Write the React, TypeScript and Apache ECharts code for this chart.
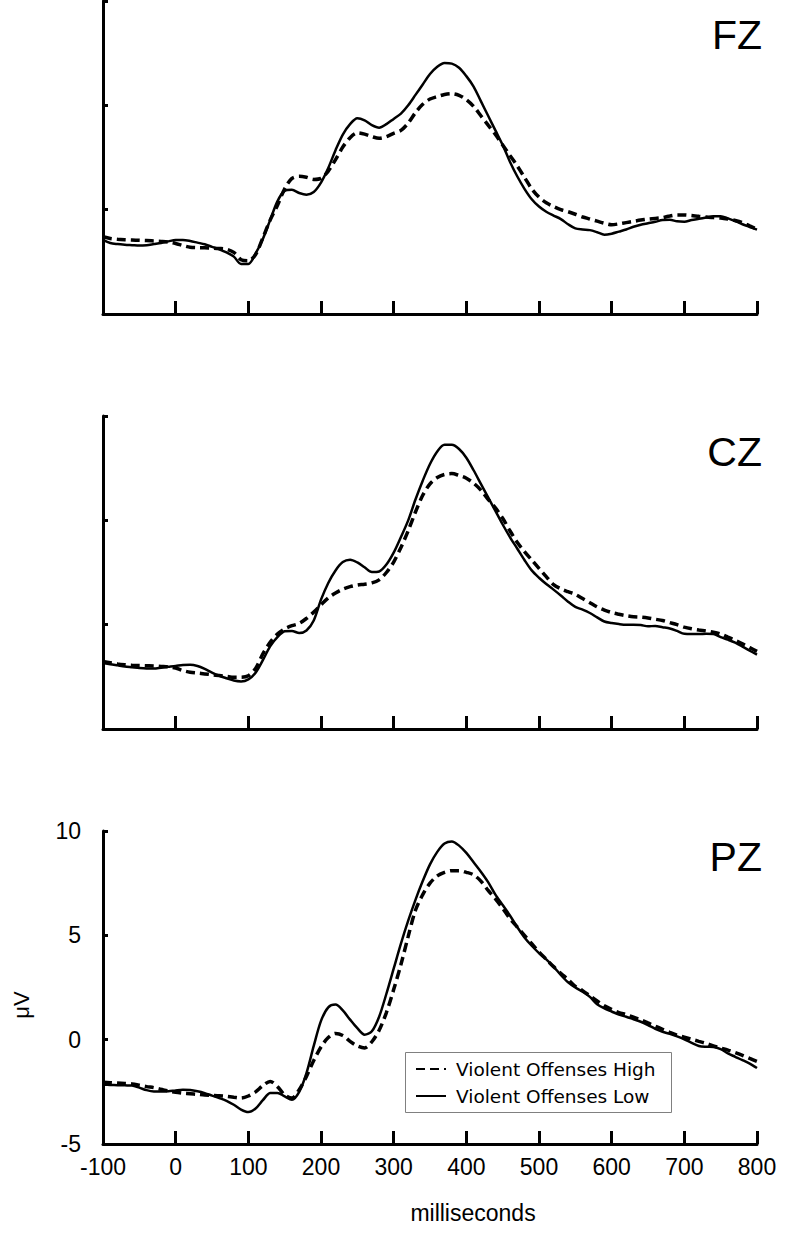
import React, { useEffect, useRef } from "react";
import * as echarts from "echarts";

// sampling grid in milliseconds (every 10 ms)
const TIMES: number[] = Array.from({ length: 91 }, (_, i) => -100 + i * 10);

const X_TICKS = [-100, 0, 100, 200, 300, 400, 500, 600, 700, 800];
const Y_TICKS = [-5, 0, 5, 10];

const FZ_LOW = [
  -1.45, -1.6, -1.65, -1.68, -1.7, -1.72, -1.7, -1.65, -1.6, -1.52,
  -1.45, -1.45, -1.5, -1.58, -1.66, -1.78, -1.9, -2.05, -2.25, -2.6,
  -2.6, -2.1, -1.4, -0.5, 0.4, 0.9, 0.95, 0.8, 0.72, 0.85,
  1.3, 2.0, 2.85, 3.6, 4.1, 4.38, 4.28, 4.05, 3.93, 4.1,
  4.35, 4.6, 5.0, 5.5, 6.0, 6.5, 6.85, 7.03, 7.0, 6.8,
  6.4, 5.9, 5.2, 4.5, 3.8, 3.1, 2.3, 1.6, 1.0, 0.5,
  0.15, -0.1, -0.28, -0.45, -0.7, -0.9, -0.95, -0.98, -1.08, -1.2,
  -1.15, -1.05, -0.95, -0.82, -0.72, -0.65, -0.58, -0.5, -0.48, -0.56,
  -0.58, -0.5, -0.44, -0.38, -0.32, -0.32, -0.42, -0.55, -0.7, -0.83,
  -0.96,
];
const FZ_HIGH = [
  -1.3, -1.38, -1.42, -1.44, -1.45, -1.47, -1.48, -1.5, -1.52, -1.55,
  -1.62, -1.72, -1.8, -1.82, -1.83, -1.84, -1.86, -1.9, -2.05, -2.4,
  -2.45, -2.15, -1.35, -0.5, 0.2, 1.0, 1.5, 1.6, 1.55, 1.45,
  1.5, 1.85, 2.4, 3.0, 3.45, 3.68, 3.62, 3.5, 3.42, 3.5,
  3.66, 3.8, 4.15, 4.65, 5.05, 5.3, 5.42, 5.52, 5.56, 5.48,
  5.27, 4.95, 4.5, 4.05, 3.6, 3.1, 2.6, 2.1, 1.55, 1.0,
  0.6, 0.33, 0.15, 0.0, -0.1, -0.22, -0.35, -0.45, -0.55, -0.65,
  -0.72, -0.68, -0.62, -0.56, -0.5, -0.45, -0.42, -0.38, -0.3, -0.25,
  -0.25, -0.28, -0.32, -0.35, -0.38, -0.4, -0.45, -0.52, -0.62, -0.78,
  -0.93,
];
const CZ_LOW = [
  -1.84, -1.9, -1.95, -2.0, -2.04, -2.08, -2.1, -2.1, -2.06, -2.02,
  -1.98, -1.93, -1.92, -1.98, -2.12, -2.3, -2.45, -2.57, -2.68, -2.72,
  -2.62, -2.3, -1.7, -1.04, -0.6, -0.32, -0.3, -0.4, -0.28, 0.2,
  1.2, 2.0, 2.6, 3.0, 3.11, 2.98, 2.75, 2.52, 2.55, 2.88,
  3.45, 4.2, 5.0, 6.0, 6.9, 7.7, 8.3, 8.62, 8.62, 8.42,
  8.0, 7.4, 6.75, 6.1, 5.45, 4.8, 4.2, 3.65, 3.1, 2.6,
  2.25, 1.95, 1.68, 1.4, 1.1, 0.85, 0.72, 0.56, 0.35, 0.15,
  0.08, 0.03, 0.0, 0.0, -0.02, -0.08, -0.06, -0.12, -0.18, -0.3,
  -0.44, -0.45, -0.45, -0.44, -0.45, -0.6, -0.72, -0.86, -1.05, -1.25,
  -1.44,
];
const CZ_HIGH = [
  -1.76, -1.82, -1.88, -1.92, -1.95, -1.96, -1.97, -1.98, -2.0, -2.02,
  -2.08, -2.2, -2.28, -2.32, -2.36, -2.4, -2.44, -2.48, -2.52, -2.52,
  -2.45, -2.1, -1.4, -0.85, -0.45, -0.2, -0.05, 0.06, 0.3, 0.6,
  0.95, 1.28, 1.52, 1.7, 1.82, 1.9, 1.94, 2.0, 2.15, 2.5,
  3.0, 3.7, 4.5, 5.4, 6.2, 6.75, 7.05, 7.2, 7.24, 7.15,
  7.02, 6.78, 6.45, 6.0, 5.6, 5.1, 4.5, 3.95, 3.5, 3.1,
  2.7, 2.3, 1.92, 1.72, 1.58, 1.45, 1.25, 1.05, 0.85, 0.7,
  0.58, 0.5, 0.43, 0.38, 0.36, 0.32, 0.26, 0.2, 0.1, 0.0,
  -0.12, -0.2, -0.26, -0.3, -0.36, -0.45, -0.6, -0.75, -0.92, -1.1,
  -1.28,
];
const PZ_LOW = [
  -2.16, -2.17, -2.18, -2.19, -2.2, -2.3, -2.42, -2.48, -2.48, -2.47,
  -2.43, -2.4, -2.41, -2.47, -2.56, -2.68, -2.8, -2.93, -3.12, -3.35,
  -3.47, -3.3, -2.9, -2.56, -2.55, -2.72, -2.88, -2.5, -1.6, -0.3,
  0.9, 1.55, 1.68, 1.4, 0.96, 0.55, 0.24, 0.4, 1.1, 2.2,
  3.4, 4.6, 5.7, 6.7, 7.6, 8.4, 9.0, 9.4, 9.5, 9.3,
  8.95, 8.5, 8.05, 7.55, 6.95, 6.45, 5.95, 5.4, 4.9, 4.5,
  4.15, 3.85, 3.5, 3.1, 2.75, 2.5, 2.3, 2.05, 1.7, 1.5,
  1.35, 1.2, 1.1, 0.98, 0.86, 0.7, 0.52, 0.38, 0.28, 0.16,
  0.02, -0.15, -0.3, -0.34, -0.35, -0.45, -0.66, -0.82, -0.98, -1.15,
  -1.36,
];
const PZ_HIGH = [
  -2.04, -2.06, -2.08, -2.1, -2.12, -2.18, -2.25, -2.3, -2.38, -2.46,
  -2.52, -2.56, -2.59, -2.62, -2.65, -2.67, -2.69, -2.72, -2.76, -2.8,
  -2.7, -2.5, -2.2, -2.0, -2.25, -2.65, -2.8, -2.4, -1.76, -1.0,
  -0.35, 0.1, 0.3, 0.2, -0.08, -0.3, -0.4, -0.1, 0.45, 1.3,
  2.4, 3.6, 4.95, 6.2, 6.95, 7.5, 7.85, 8.02, 8.1, 8.1,
  8.02, 7.9, 7.6, 7.15, 6.75, 6.3, 5.8, 5.4, 5.0, 4.6,
  4.2, 3.85, 3.5, 3.18, 2.88, 2.55, 2.35, 2.1, 1.85, 1.62,
  1.45, 1.3, 1.2, 1.08, 0.95, 0.8, 0.65, 0.5, 0.35, 0.22,
  0.12, 0.02, -0.08, -0.18, -0.3, -0.4, -0.5, -0.62, -0.75, -0.9,
  -1.04,
];

const PANEL_NAMES = ["FZ", "CZ", "PZ"];
const SERIES_HIGH = "Violent Offenses High";
const SERIES_LOW = "Violent Offenses Low";
const X_NAME = "milliseconds";
const Y_NAME = "μV";

const FONT = "'Liberation Sans', Arial, Helvetica, sans-serif";

export default function App() {
  const ref = useRef<HTMLDivElement>(null);

  useEffect(() => {
    if (!ref.current) return;
    const chart = echarts.init(ref.current, undefined, { renderer: "svg" });

    const panels = [
      { high: FZ_HIGH, low: FZ_LOW },
      { high: CZ_HIGH, low: CZ_LOW },
      { high: PZ_HIGH, low: PZ_LOW },
    ];
    const tops = [1, 416, 831];
    const titleY = [38, 455, 860];
    const gridH = 313;

    const grids = tops.map((t) => ({ left: 103, width: 654, top: t, height: gridH }));

    const xAxes = tops.map((_, i) => ({
      type: "value",
      gridIndex: i,
      min: X_TICKS[0],
      max: X_TICKS[X_TICKS.length - 1],
      interval: X_TICKS[1] - X_TICKS[0],
      axisLine: { show: true, onZero: false, lineStyle: { color: "#000", width: 3 } },
      axisTick: { show: true, inside: true, length: 13, lineStyle: { color: "#000", width: 3 } },
      axisLabel: {
        show: i === 2,
        margin: 11,
        color: "#000",
        fontSize: 23,
        fontFamily: FONT,
      },
      splitLine: { show: false },
    }));

    const yAxes = tops.map((_, i) => ({
      type: "value",
      gridIndex: i,
      min: Y_TICKS[0],
      max: Y_TICKS[Y_TICKS.length - 1],
      interval: Y_TICKS[1] - Y_TICKS[0],
      axisLine: { show: true, onZero: false, lineStyle: { color: "#000", width: 3 } },
      axisTick: { show: true, inside: true, length: 5, lineStyle: { color: "#000", width: 3 } },
      axisLabel: {
        show: i === 2,
        margin: 22,
        color: "#000",
        fontSize: 23,
        fontFamily: FONT,
      },
      splitLine: { show: false },
    }));

    const series: any[] = [];
    panels.forEach((p, i) => {
      series.push({
        name: SERIES_LOW,
        type: "line",
        xAxisIndex: i,
        yAxisIndex: i,
        data: TIMES.map((t, k) => [t, p.low[k]]),
        symbol: "none",
        smooth: 0.3,
        lineStyle: { color: "#000", width: 2.5, type: "solid" },
        itemStyle: { color: "#000" },
      });
      series.push({
        name: SERIES_HIGH,
        type: "line",
        xAxisIndex: i,
        yAxisIndex: i,
        data: TIMES.map((t, k) => [t, p.high[k]]),
        symbol: "none",
        smooth: 0.3,
        lineStyle: { color: "#000", width: 3.5, type: [9, 5] },
        itemStyle: { color: "#000" },
      });
    });

    const graphics: any[] = PANEL_NAMES.map((n, i) => ({
      type: "text",
      right: 38,
      top: titleY[i] - 24,
      style: {
        text: n,
        fontSize: 41,
        fontFamily: FONT,
        fill: "#000",
      },
    }));
    graphics.push({
      type: "rect",
      shape: { x: 405.5, y: 1052.5, width: 266, height: 60 },
      style: { fill: "#fff", stroke: "#808080", lineWidth: 1 },
      z: 50,
    });
    graphics.push({
      type: "text",
      x: 21,
      y: 1005,
      rotation: Math.PI / 2,
      style: {
        text: Y_NAME,
        fontSize: 22,
        fontFamily: FONT,
        fill: "#000",
        align: "center",
        verticalAlign: "middle",
      },
    });
    graphics.push({
      type: "text",
      x: 473,
      y: 1213,
      style: {
        text: X_NAME,
        fontSize: 23,
        fontFamily: FONT,
        fill: "#000",
        align: "center",
        verticalAlign: "middle",
      },
    });

    chart.setOption({
      animation: false,
      backgroundColor: "#fff",
      grid: grids,
      xAxis: xAxes,
      yAxis: yAxes,
      series,
      legend: {
        data: [SERIES_HIGH, SERIES_LOW],
        orient: "vertical",
        left: 415,
        top: 1059,
        padding: 0,
        itemWidth: 30,
        itemHeight: 14,
        itemGap: 7,
        z: 60,
        itemStyle: { opacity: 0 },
        textStyle: {
          fontSize: 18.5,
          lineHeight: 20,
          fontFamily: "'DejaVu Sans', Verdana, sans-serif",
          color: "#000",
          padding: [0, 0, 0, 5],
        },
        selectedMode: false,
      },
      graphic: graphics,
    });

    return () => chart.dispose();
  }, []);

  return (
    <div
      ref={ref}
      style={{ position: "absolute", left: 0, top: 0, width: 800, height: 1238 }}
    />
  );
}
